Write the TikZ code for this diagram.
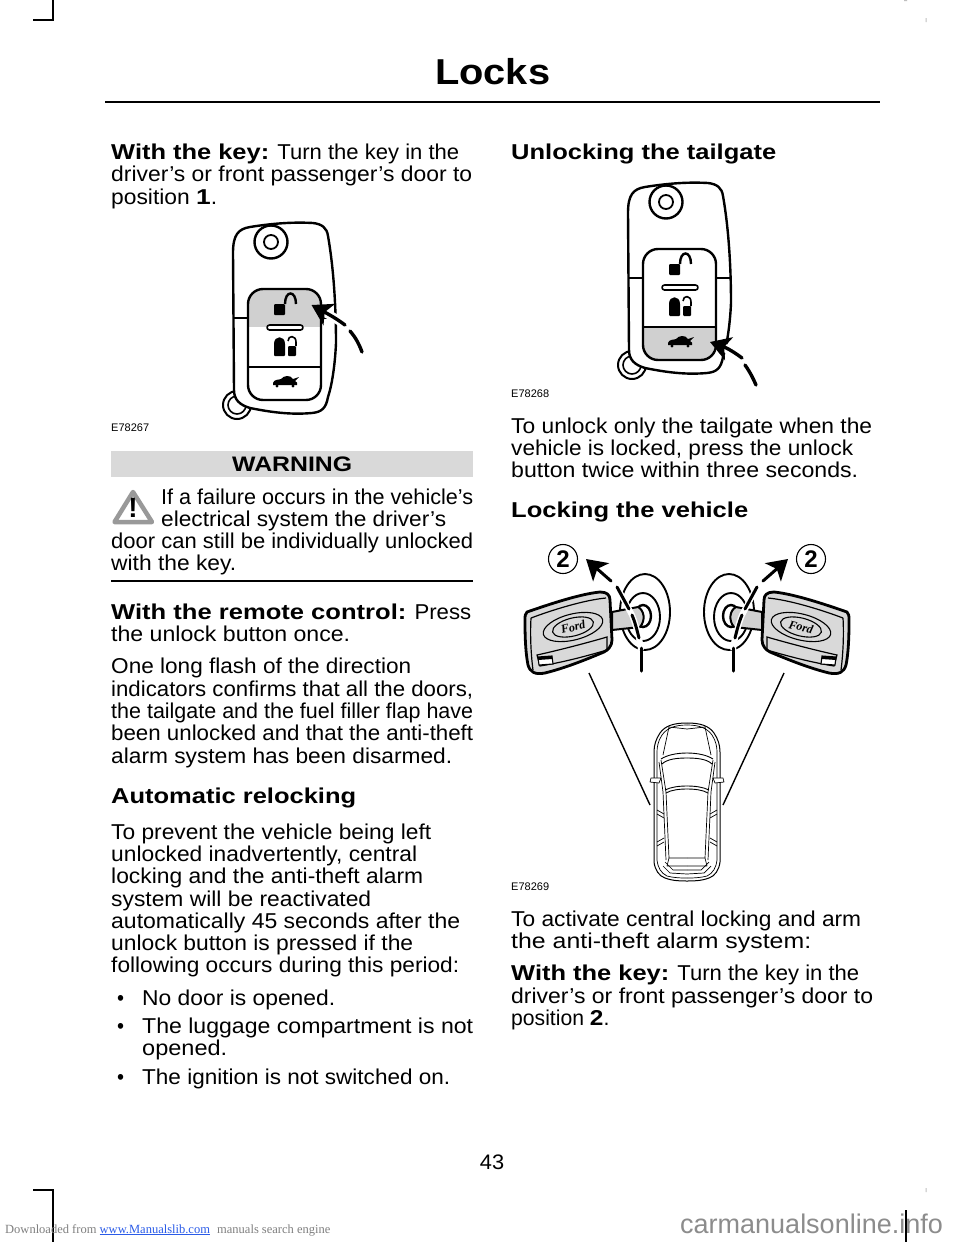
\documentclass[tikz,border=0pt]{standalone}
\usepackage{fontspec}
\usepackage{graphicx}
\setmainfont[FakeStretch=1.04, BoldFeatures={FakeStretch=1.2}]{Liberation Sans}
\newfontfamily\plainsans{Liberation Sans}
\newfontfamily\footserif{Liberation Serif}
\usetikzlibrary{arrows.meta}
\definecolor{bandgray}{HTML}{D9D9D9}
\definecolor{fobgray}{HTML}{D0D0D0}
\definecolor{warngray}{HTML}{999999}
\definecolor{linkblue}{HTML}{2A5BE8}
\tikzset{
  line/.style={anchor=base west, inner sep=0pt, font=\fontsize{21.5}{22}\selectfont},
  code/.style={anchor=base west, inner sep=0pt, font=\plainsans\fontsize{11}{12}\selectfont},
  foot/.style={anchor=base west, inner sep=0pt, font=\footserif\fontsize{12.5}{13}\selectfont},
  keyline/.style={line width=2.4pt, line join=round},
  fobarrow/.style={line width=3.4pt, line cap=round, -{Stealth[length=20pt,width=24pt,inset=5pt]}},
  halo/.style={line width=9pt, white},
  callout/.style={draw, circle, line width=1.1pt, minimum size=29pt, inner sep=0pt, fill=white,
    font=\plainsans\bfseries\fontsize{24}{24}\selectfont},
  carline/.style={line width=0.7pt, line join=round}
}
% fob, gray band from #1 to #2
\newcommand{\fobkey}[2]{
  \draw[keyline, line width=2pt] (237,405) circle (14);
  \draw[keyline, line width=1.6pt] (237,405) circle (9);
  \draw[keyline, fill=white] (233,253) .. controls (233,235) and (238,229) .. (250,227)
    .. controls (275,223) and (295,222) .. (313,223) .. controls (322,224) and (327,228) .. (328,236)
    .. controls (334,270) and (336,310) .. (336,343) .. controls (335,365) and (332,385) .. (328,397)
    .. controls (326,408) and (322,412) .. (312,413) .. controls (290,415) and (270,412) .. (250,408)
    .. controls (240,405) and (234,400) .. (234,390) -- cycle;
  \draw[keyline] (271,242) circle (16.5);
  \draw[keyline, line width=1.8pt] (271,242) circle (7);
  \draw[keyline, line width=1.4pt] (233,318) -- (248,318);
  \draw[keyline, line width=1.4pt] (321,318) -- (336,318);
  \begin{scope}
    \clip[rounded corners=15] (248,289) rectangle (321,400);
    \fill[fobgray] (248,#1) rectangle (321,#2);
  \end{scope}
  \draw[keyline, rounded corners=15] (248,289) rectangle (321,400);
  \draw[keyline, line width=1.2pt] (248,367) -- (321,367);
  \draw[keyline, line width=1.6pt, fill=white, rounded corners=2.5] (267,325) rectangle (303,330);
  % unlock
  \fill[rounded corners=1] (274,304) rectangle (285,315);
  \draw[line width=2.4pt] (285,304) .. controls (285,290) and (296,290) .. (296,304);
  % lock
  \fill[rounded corners=1] (274,356) -- (274,345) .. controls (274,335) and (285,335) .. (285,345) -- (285,356) -- cycle;
  \fill[rounded corners=1] (288,346) -- (296,346) -- (296,356) -- (288,356) -- cycle;
  \draw[line width=1.6pt] (288,341) .. controls (288,335) and (296,335) .. (296,342) -- (296,346);
  % tailgate
  \fill (273,383) .. controls (274,379) and (279,380) .. (281,379) .. controls (284,375) and (291,375) .. (293,379)
    -- (299,377) -- (295,381) .. controls (297,382) and (298,383) .. (297,385) -- (273,385) -- cycle;
  \fill (277,386) circle (1.7) (293,386) circle (1.7);
}
% half of the car seen from above
\newcommand{\carside}{
  \draw[carline, line width=1pt] (0,723) .. controls (14,723) and (22,726) .. (27,733) .. controls (31,739) and (33,745) .. (33,752)
    -- (33,862) .. controls (32,870) and (28,876) .. (22,878) .. controls (14,881) and (6,881) .. (0,881);
  \draw[carline] (0,725) .. controls (12,725) and (20,728) .. (25,735) .. controls (29,741) and (30,747) .. (30,752)
    -- (30,860) .. controls (29,868) and (26,873) .. (20,876) .. controls (12,878) and (6,878) .. (0,878);
  \draw[carline] (18,727) -- (24,755);
  \draw[carline] (0,729) -- (18,727);
  \draw[carline, line width=0.9pt] (0,753) .. controls (10,753) and (20,755) .. (26,759);
  \draw[carline, line width=0.9pt] (0,758) .. controls (10,758) and (20,759) .. (25,764);
  \draw[carline, line width=0.9pt] (0,786) .. controls (8,786) and (16,787) .. (22,790);
  \draw[carline, line width=0.9pt] (0,789) .. controls (8,789) and (16,790) .. (21,793);
  \draw[carline] (26,760) -- (21,792) -- (18,858);
  \draw[carline] (28,762) -- (24,792) -- (21,860);
  \draw[carline] (30,810) -- (23,814);
  \draw[carline] (30,814) -- (23,818);
  \draw[carline] (30,842) -- (23,838);
  \draw[carline] (30,846) -- (23,842);
  \draw[carline, fill=white] (26,778) -- (36,778) -- (37,782) -- (28,783) -- cycle;
  \draw[carline] (0,858) -- (18,858) -- (20,866) -- (0,866);
  \draw[carline] (0,870) -- (14,870) -- (22,862);
  \draw[carline] (0,874) -- (17,873) -- (24,866);
}
% key on the left, rings behind it
\newcommand{\keyshape}{
  \draw[line width=1.9pt] (645,612) ellipse (25 and 38);
  \draw[line width=1.9pt] (643,617) ellipse (17 and 24);
  \draw[line width=2.4pt] (643,616) ellipse (8 and 11);
  \draw[line width=2pt, fill=fobgray] (612,612) -- (638,607) .. controls (644,610) and (646,620) .. (640,627) -- (612,630) -- cycle;
  \draw[keyline, line width=2.8pt, fill=bandgray] (527,612) .. controls (550,604) and (580,594) .. (600,592)
    .. controls (607,592) and (610,595) .. (610,600) -- (612,640) .. controls (612,646) and (608,650) .. (604,652)
    .. controls (585,660) and (565,668) .. (545,673) .. controls (535,675) and (530,672) .. (528,665)
    .. controls (525,650) and (525,630) .. (525,620) .. controls (525,616) and (525,614) .. (527,612) -- cycle;
  \draw[keyline, line width=1.2pt] (531,618) .. controls (555,609) and (585,600) .. (606,598);
  \draw[keyline, line width=1.2pt] (531,618) .. controls (530,635) and (531,655) .. (533,670);
  \draw[line width=1.1pt, rotate around={14:(573,627)}] (573,627) ellipse (30.5 and 13);
  \draw[line width=1.1pt, rotate around={14:(573,627)}] (573,627) ellipse (21 and 9);
  \draw[line width=1.2pt] (537,655) .. controls (560,650) and (590,642) .. (607,637) -- (607,650)
    .. controls (590,655) and (565,662) .. (540,666) -- cycle;
  \draw[line width=1.1pt, fill=white] (538,657) -- (552,656) -- (553,664) -- (539,665) -- cycle;
  \fill (538,657) -- (552,656) -- (552,659) -- (538,660) -- cycle;
  \draw[halo, line width=6pt] (617,587) -- (632,615) .. controls (636,625) and (640,640) .. (641,650);
  \draw[line width=3pt, line cap=round] (632,615) .. controls (635,622) and (637,630) .. (639,638);
  \draw[line width=3pt, line cap=round] (641,648) -- (641,671);
  \draw[line width=3pt, line cap=round] (629,609) -- (617,587);
  \coordinate (keytail) at (611,581);
  \coordinate (keytip) at (586,559);
  \draw[line width=3pt, line cap=round, -{Stealth[length=20pt,width=24pt,inset=5pt]}] (keytail) -- (keytip);
}
\begin{document}
\begin{tikzpicture}[x=1pt, y=-1pt]
  \useasboundingbox (0,0) rectangle (960,1242);
  \fill[white] (0,0) rectangle (960,1242);

  % crop marks
  \draw[line width=1.4pt] (53,0) -- (53,20) -- (33,20);
  \draw[line width=1.4pt] (33,1190) -- (53,1190) -- (53,1242);
  \draw[line width=2pt] (53,1210) -- (53,1242);
  \fill[black!25] (925.5,18) rectangle (926.5,22) (904,0) rectangle (907,1) (925.5,1188) rectangle (926.5,1192);

  % header
  \node[anchor=base west, inner sep=0pt, font=\bfseries\fontsize{36}{36}\selectfont] (head) at (435,84) {\resizebox{115pt}{\height}{Locks}};
  \draw[line width=1.1pt] (105,102) -- (880,102);

  % warning
  \fill[bandgray] (111,451) rectangle (473,477);
  \node[anchor=base west, inner sep=0pt, font=\bfseries\fontsize{21}{22}\selectfont] (warn) at (232,471) {\resizebox{120pt}{\height}{WARNING}};
  \draw[warngray, line width=4.5pt, line join=round] (133,492) -- (114.5,522) -- (152,522) -- cycle;
  \node[inner sep=0pt, font=\plainsans\bfseries\fontsize{28}{28}\selectfont] (bang) at (133,508) {!};
  \draw[line width=1.1pt] (111,581) -- (473,581);

  % text lines, start / baseline / end
  \foreach \px/\py/\pe/\txt [count=\i] in {
    111/159/459/{\textbf{With the key:} Turn the key in the},
    111/181.5/472/{driver’s or front passenger’s door to},
    111/204/217/{position \textbf{1}.},
    161/504/473/{If a failure occurs in the vehicle’s},
    161/526/446/{electrical system the driver’s},
    111/548/473/{door can still be individually unlocked},
    111/570/236/{with the key.},
    111/619/471/{\textbf{With the remote control:} Press},
    111/641/350/{the unlock button once.},
    111/673.5/411/{One long flash of the direction},
    111/696/473/{indicators confirms that all the doors,},
    111/718/473/{the tailgate and the fuel filler flap have},
    111/740/473/{been unlocked and that the anti-theft},
    111/763/452/{alarm system has been disarmed.},
    111/803/356/{\textbf{Automatic relocking}},
    111/839/431/{To prevent the vehicle being left},
    111/861/417/{unlocked inadvertently, central},
    111/883/423/{locking and the anti-theft alarm},
    111/906/371/{system will be reactivated},
    111/928/460/{automatically 45 seconds after the},
    111/950/413/{unlock button is pressed if the},
    111/972/459/{following occurs during this period:},
    117/1005/124/{•},
    142/1005/335/{No door is opened.},
    117/1033/124/{•},
    142/1033/473/{The luggage compartment is not},
    142/1055/227/{opened.},
    117/1084/124/{•},
    142/1084/450/{The ignition is not switched on.},
    511/159/776/{\textbf{Unlocking the tailgate}},
    511/433/872/{To unlock only the tailgate when the},
    511/455/853/{vehicle is locked, press the unlock},
    511/477/858/{button twice within three seconds.},
    511/517/748/{\textbf{Locking the vehicle}},
    511/926/861/{To activate central locking and arm},
    511/948/811/{the anti-theft alarm system:},
    511/980/859/{\textbf{With the key:} Turn the key in the},
    511/1003/873/{driver’s or front passenger’s door to},
    511/1025/617/{position \textbf{2}.}
  } {
    \pgfmathsetlengthmacro{\lw}{(\pe-\px)*1pt}
    \node[line] (txt\i) at (\px,\py) {\resizebox{\lw}{\height}{\txt}};
  }

  \node[code] (fig1) at (111,431) {E78267};
  \node[code] (fig2) at (511,397) {E78268};
  \node[code] (fig3) at (511,890) {E78269};
  \node[anchor=base, inner sep=0pt, font=\fontsize{21}{22}\selectfont] (page) at (492,1169) {43};

  % footer
  \node[foot, text=black!50] (dl) at (5,1233) {Downloaded from};
  \node[foot, text=linkblue] (site) at (99.5,1233) {\underline{www.Manualslib.com}};
  \node[foot, text=black!50] (eng) at (217,1233) {manuals search engine};
  \node[anchor=base west, inner sep=0pt, text=black!45, font=\plainsans\fontsize{27}{28}\selectfont] (mark) at (680,1233) {carmanualsonline.info};
  \draw[line width=2pt] (905.5,1210) -- (905.5,1242);

  % first fob
  \fobkey{289}{327}
  \coordinate (tipa) at (311.5,305);
  \draw[halo] (345,325) .. controls (337,319) and (330,315) .. (318,309);
  \draw[fobarrow] (345,325) .. controls (337,319) and (330,315) .. (tipa);
  \draw[line width=3.4pt, line cap=round] (350,331) .. controls (356,338) and (359,344) .. (362,352);

  % second fob
  \begin{scope}[shift={(395,-40)}]
    \fobkey{367}{400}
    \coordinate (tipb) at (315,382);
    \draw[halo] (347,398) .. controls (339,392) and (332,388) .. (322,386);
    \draw[fobarrow] (347,398) .. controls (339,392) and (332,388) .. (tipb);
    \draw[line width=3.4pt, line cap=round] (350,405) .. controls (355,412) and (358,418) .. (361,425);
  \end{scope}

  % keys
  \keyshape
  \begin{scope}[xshift=1374pt, xscale=-1]
    \keyshape
  \end{scope}
  \node[inner sep=0pt, rotate=14, font=\footserif\itshape\bfseries\fontsize{12}{12}\selectfont] (forda) at (573,627) {Ford};
  \node[inner sep=0pt, rotate=-14, font=\footserif\itshape\bfseries\fontsize{12}{12}\selectfont] (fordb) at (801,627) {Ford};
  \node[callout] (numa) at (563,559) {2};
  \node[callout] (numb) at (811,559) {2};

  % car
  \foreach \s in {1,-1} {
    \begin{scope}[xshift=687pt, xscale=\s]
      \carside
    \end{scope}
  }
  \draw[line width=1.4pt] (589,673) -- (650,805);
  \draw[line width=1.4pt] (784,673) -- (723,805);
\end{tikzpicture}
\end{document}
